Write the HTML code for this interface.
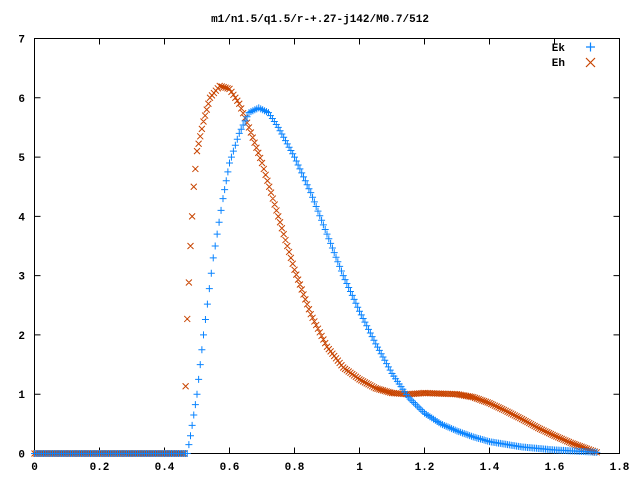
<!DOCTYPE html>
<html><head><meta charset="utf-8"><style>
body{margin:0;background:#fff}
svg text{font-family:"Liberation Mono",monospace;font-size:11px;font-weight:bold;fill:#000}
</style></head><body>
<svg id="chart" width="640" height="480" xmlns="http://www.w3.org/2000/svg">
<text x="320" y="22" text-anchor="middle">m1/n1.5/q1.5/r-+.27-j142/M0.7/512</text>
<rect x="34.5" y="38.5" width="585" height="415" fill="none" stroke="#000" stroke-width="1"/>
<g id="axes"></g>
<g id="series"></g>
<g>
<text x="565" y="51" text-anchor="end">Ek</text>
<text x="565" y="66" text-anchor="end">Eh</text>
<path d="M586 47h9M590.5 42.5v9" stroke="#0a84ff" stroke-width="1.2"/>
<path d="M586 58l9 9M595 58l-9 9" stroke="#c84400" stroke-width="1.2"/>
</g>
</svg>
<script>
const xTicks=[0,0.2,0.4,0.6,0.8,1,1.2,1.4,1.6,1.8];
const xTickLabels=["0","0.2","0.4","0.6","0.8","1","1.2","1.4","1.6","1.8"];
const yTicks=[0,1,2,3,4,5,6,7];
const ekX=[0,0.1,0.2,0.3,0.4,0.47,0.48,0.5,0.52,0.55,0.58,0.6,0.63,0.66,0.69,0.72,0.75,0.8,0.85,0.9,0.95,1.0,1.05,1.1,1.15,1.2,1.25,1.3,1.35,1.4,1.5,1.6,1.7,1.73];
const ekY=[0,0,0,0,0,0,0.3,1.0,2.0,3.3,4.3,4.9,5.4,5.75,5.83,5.75,5.5,5.0,4.4,3.7,3.0,2.4,1.85,1.35,0.95,0.68,0.5,0.38,0.28,0.2,0.11,0.06,0.03,0.02];
const ehX=[0,0.1,0.2,0.3,0.4,0.46,0.47,0.48,0.49,0.5,0.52,0.54,0.57,0.6,0.63,0.66,0.7,0.75,0.8,0.85,0.9,0.95,1.0,1.05,1.1,1.15,1.2,1.3,1.35,1.4,1.45,1.5,1.55,1.6,1.65,1.7,1.73];
const ehY=[0,0,0,0,0,0,2.27,3.5,4.5,5.1,5.6,6.0,6.2,6.15,5.9,5.5,4.9,4.0,3.1,2.35,1.8,1.45,1.25,1.1,1.02,1.0,1.02,1.0,0.95,0.85,0.72,0.58,0.43,0.3,0.18,0.08,0.02];
const X0=34.5,X1=619.5,Y0=453.5,Y1=38.5;
const sx=v=>X0+v/1.8*(X1-X0), sy=v=>Y0-v/7*(Y0-Y1);
const NS="http://www.w3.org/2000/svg";
const axes=document.getElementById('axes'), ser=document.getElementById('series');
function mk(t,a,p){const e=document.createElementNS(NS,t);for(const k in a)e.setAttribute(k,a[k]);p.appendChild(e);return e;}
xTicks.forEach((v,i)=>{
 const t=mk('path',{d:`M${sx(v)} ${Y0}v-6M${sx(v)} ${Y1}v6`,stroke:'#000'},axes);
 
 
 const l=mk('text',{x:sx(v),y:470,'text-anchor':'middle'},axes);l.textContent=xTickLabels[i];
 
 
});
yTicks.forEach(v=>{
 const t=mk('path',{d:`M${X0} ${sy(v)}h6M${X1} ${sy(v)}h-6`,stroke:'#000'},axes);
 
 
 const l=mk('text',{x:25,y:sy(v)+4,'text-anchor':'end'},axes);l.textContent=String(v);
 
 
});
function draw(xs,ys,color,plus,name){
 const g=mk('g',{stroke:color,'stroke-width':1,fill:'none'},ser);
 
 
 let d='';
 const m=(x,y)=>plus?`M${x-3.5} ${y}h7M${x} ${y-3.5}v7`:`M${x-3} ${y-3}l6 6M${x+3} ${y-3}l-6 6`;
 for(let i=0;i<xs.length;i++){
  const x=sx(xs[i]),y=sy(ys[i]);d+=m(x,y);
  if(i<xs.length-1){const x2=sx(xs[i+1]),y2=sy(ys[i+1]);const n=Math.max(1,Math.round((x2-x)/1.8));
   for(let k=1;k<n;k++){d+=m(x+(x2-x)*k/n,y+(y2-y)*k/n);}}
 }
 mk('path',{d:d},g);
}
draw(ehX,ehY,'#c84400',false,'series-eh');
draw(ekX,ekY,'#0a84ff',true,'series-ek');
</script>
</body></html>
